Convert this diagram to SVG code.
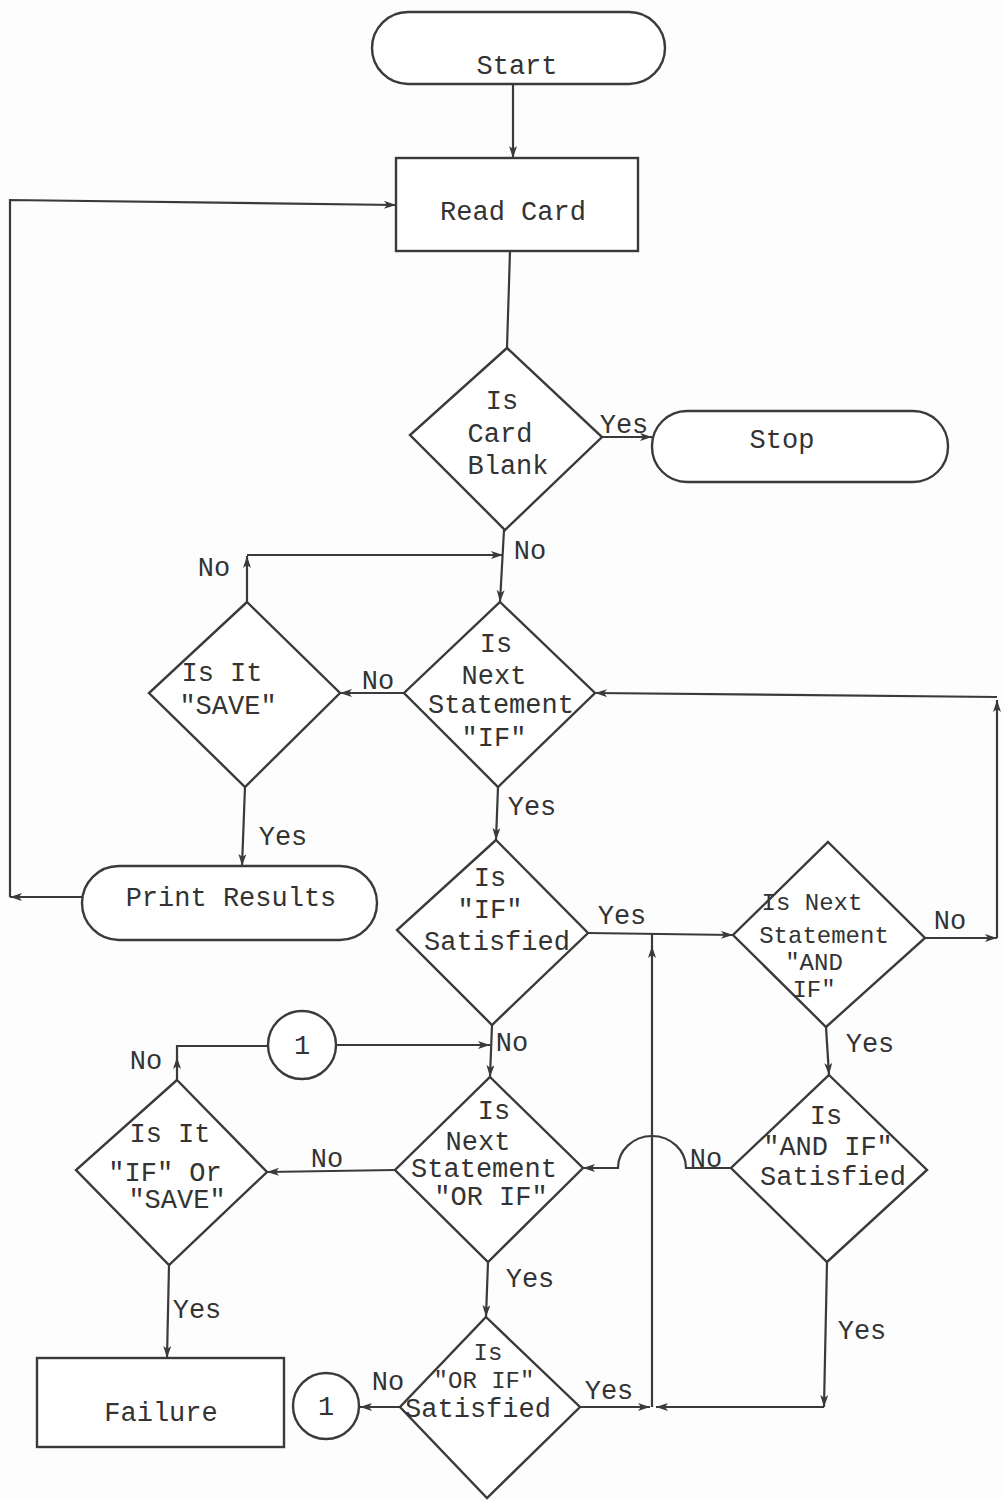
<svg xmlns="http://www.w3.org/2000/svg" width="1004" height="1500" viewBox="0 0 1004 1500">
<defs>
<style>
.s{fill:#fff;stroke:#3a3a3a;stroke-width:2.4}
.c{fill:none;stroke:#3a3a3a;stroke-width:2.2}
.a{marker-end:url(#ah)}
.t{font-family:"Liberation Mono","DejaVu Sans Mono",monospace;font-size:27px;fill:#333;text-anchor:middle}
.sm{font-size:24px}
</style>
<marker id="ah" markerUnits="userSpaceOnUse" markerWidth="14" markerHeight="10" refX="12" refY="4" orient="auto">
<path d="M0,0 L12,4 L0,8 L3,4 z" fill="#3a3a3a"/>
</marker>
</defs>
<rect width="1004" height="1500" fill="#fdfdfd"/>

<g id="connectors">
<path class="c a" d="M513,84 L513,158"/>
<path class="c" d="M510,251 L507,348"/>
<path class="c a" d="M602,437 L652,437"/>
<path class="c a" d="M504,530 L500,602"/>
<path class="c a" d="M247,602 L247,556"/>
<path class="c a" d="M247,555 L503,555"/>
<path class="c a" d="M404,693 L340,693"/>
<path class="c a" d="M245,787 L242,866"/>
<path class="c a" d="M82,897 L10,897"/>
<path class="c a" d="M10,897 L10,200 L396,205"/>
<path class="c a" d="M498,787 L496,840"/>
<path class="c a" d="M588,933 L733,935"/>
<path class="c a" d="M925,938 L997,938"/>
<path class="c a" d="M997,938 L997,700"/>
<path class="c a" d="M997,697 L595,693"/>
<path class="c a" d="M826,1027 L829,1075"/>
<path class="c a" d="M731,1168 L686,1168 A34,32 0 0 0 618,1168 L583,1168"/>
<path class="c a" d="M827,1262 L824,1407"/>
<path class="c a" d="M824,1407 L656,1407"/>
<path class="c a" d="M652,1407 L652,946"/>
<path class="c" d="M652,947 L652,934"/>
<path class="c a" d="M492,1025 L490,1077"/>
<path class="c a" d="M336,1045 L490,1045"/>
<path class="c a" d="M177,1080 L177,1057"/>
<path class="c" d="M177,1058 L177,1046 L268,1046"/>
<path class="c a" d="M395,1170 L267,1172"/>
<path class="c a" d="M169,1265 L167,1358"/>
<path class="c a" d="M488,1262 L486,1317"/>
<path class="c a" d="M400,1407 L360,1407"/>
<path class="c a" d="M580,1407 L650,1407"/>
</g>

<g id="labels">
<text class="t" x="624" y="433">Yes</text>
<text class="t" x="530" y="559">No</text>
<text class="t" x="214" y="576">No</text>
<text class="t" x="378" y="689">No</text>
<text class="t" x="283" y="845">Yes</text>
<text class="t" x="532" y="815">Yes</text>
<text class="t" x="622" y="924">Yes</text>
<text class="t" x="950" y="929">No</text>
<text class="t" x="870" y="1052">Yes</text>
<text class="t" x="512" y="1051">No</text>
<text class="t" x="146" y="1069">No</text>
<text class="t" x="327" y="1167">No</text>
<text class="t" x="706" y="1167">No</text>
<text class="t" x="197" y="1318">Yes</text>
<text class="t" x="530" y="1287">Yes</text>
<text class="t" x="862" y="1339">Yes</text>
<text class="t" x="388" y="1390">No</text>
<text class="t" x="609" y="1399">Yes</text>
</g>

<g id="start"><rect class="s" x="372" y="12" width="293" height="72" rx="36"/><text class="t" x="517" y="74">Start</text></g>
<g id="read-card"><rect class="s" x="396" y="158" width="242" height="93"/><text class="t" x="513" y="220">Read Card</text></g>
<g id="card-blank"><polygon class="s" points="507,348 602,437 505,530 410,435"/><text class="t" x="502" y="409">Is</text><text class="t" x="500" y="442">Card</text><text class="t" x="508" y="474">Blank</text></g>
<g id="stop"><rect class="s" x="652" y="411" width="296" height="71" rx="35"/><text class="t" x="782" y="448">Stop</text></g>
<g id="next-if"><polygon class="s" points="500,602 595,693 498,787 404,693"/><text class="t" x="496" y="652">Is</text><text class="t" x="494" y="684">Next</text><text class="t" x="501" y="713">Statement</text><text class="t" x="494" y="746">"IF"</text></g>
<g id="is-save"><polygon class="s" points="247,602 340,693 245,787 149,693"/><text class="t" x="222" y="681">Is It</text><text class="t" x="228" y="714">"SAVE"</text></g>
<g id="print-results"><rect class="s" x="82" y="866" width="295" height="74" rx="37"/><text class="t" x="231" y="906">Print Results</text></g>
<g id="if-satisfied"><polygon class="s" points="496,840 588,933 492,1025 397,930"/><text class="t" x="490" y="886">Is</text><text class="t" x="490" y="918">"IF"</text><text class="t" x="497" y="950">Satisfied</text></g>
<g id="next-and-if"><polygon class="s" points="828,842 925,938 826,1027 733,935"/><text class="t sm" x="812" y="910">Is Next</text><text class="t sm" x="824" y="943">Statement</text><text class="t sm" x="814" y="970">"AND</text><text class="t sm" x="814" y="997">IF"</text></g>
<g id="connector-1a"><circle class="s" cx="302" cy="1045" r="34"/><text class="t" x="302" y="1054">1</text></g>
<g id="and-if-satisfied"><polygon class="s" points="829,1075 927,1170 827,1262 731,1168"/><text class="t" x="826" y="1124">Is</text><text class="t" x="828" y="1155">"AND IF"</text><text class="t" x="833" y="1185">Satisfied</text></g>
<g id="next-or-if"><polygon class="s" points="490,1077 583,1168 488,1262 395,1170"/><text class="t" x="494" y="1119">Is</text><text class="t" x="478" y="1150">Next</text><text class="t" x="484" y="1177">Statement</text><text class="t" x="491" y="1205">"OR IF"</text></g>
<g id="if-or-save"><polygon class="s" points="177,1080 267,1172 169,1265 76,1170"/><text class="t" x="170" y="1142">Is It</text><text class="t" x="165" y="1181">"IF" Or</text><text class="t" x="177" y="1208">"SAVE"</text></g>
<g id="failure"><rect class="s" x="37" y="1358" width="247" height="89"/><text class="t" x="161" y="1421">Failure</text></g>
<g id="or-if-satisfied"><polygon class="s" points="486,1317 580,1407 487,1498 400,1407"/><text class="t sm" x="488" y="1360">Is</text><text class="t sm" x="484" y="1388">"OR IF"</text><text class="t" x="478" y="1417">Satisfied</text></g>
<g id="connector-1b"><circle class="s" cx="326" cy="1406" r="33"/><text class="t" x="326" y="1415">1</text></g>
</svg>
